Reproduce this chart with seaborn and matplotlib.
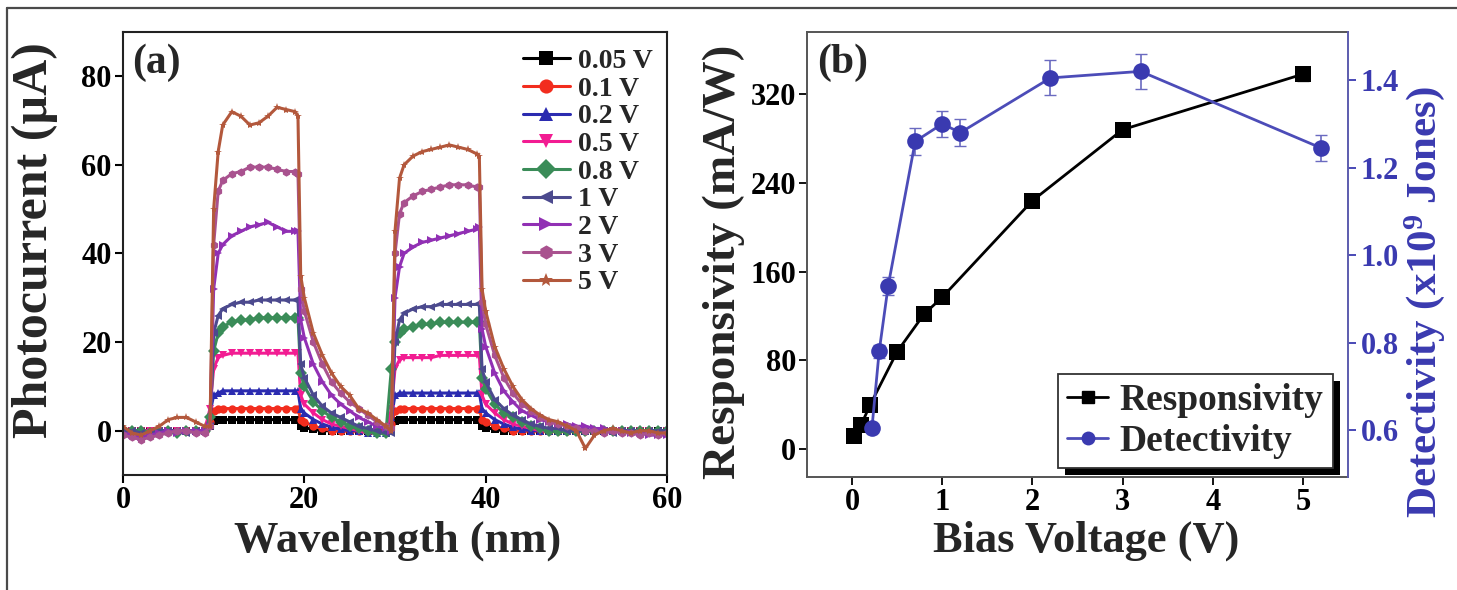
import matplotlib
matplotlib.use('Agg')
import matplotlib.pyplot as plt
from matplotlib.lines import Line2D
from matplotlib.patches import Rectangle
from matplotlib.transforms import IdentityTransform
import seaborn as sns

# ---- panel (a): photocurrent vs wavelength ----
t_nm = [0, 1, 2, 3, 4, 5, 6, 7, 8, 9,
        9.6, 10, 10.5, 11,
        12, 13, 14, 15, 16, 17, 18, 19,
        19.3, 19.6, 20, 21, 22, 23, 24, 25, 26, 27, 28, 29,
        29.6, 30, 30.5, 31,
        32, 33, 34, 35, 36, 37, 38, 39,
        39.3, 39.6, 40, 41, 42, 43, 44, 45, 46, 47, 48, 49,
        50, 51, 52, 53, 54, 55, 56, 57, 58, 59, 60]

i_005 = [0, 0, 0, 0, 0, 0, 0, 0, 0, 0,
         1, 2.2, 2.5, 2.5,
         2.5, 2.5, 2.5, 2.5, 2.5, 2.5, 2.5, 2.5,
         2.5, 1, 0.7, 0.3, 0, 0, 0, 0, 0, 0, 0, 0,
         0.8, 2.2, 2.5, 2.5,
         2.5, 2.5, 2.5, 2.5, 2.5, 2.5, 2.5, 2.5,
         2.5, 1, 0.7, 0.3, 0, 0, 0, 0, 0, 0, 0, 0,
         0, 0, 0, 0, 0, 0, 0, 0, 0, 0, 0]
i_01 = [0, 0, 0, 0, 0, 0, 0, 0, 0, 0,
        2, 4.5, 5, 5,
        5, 5, 5, 5, 5, 5, 5, 5,
        5, 2.5, 2, 1, 0.5, 0, 0, 0, 0, 0, 0, 0,
        1.5, 4.5, 5, 5,
        5, 5, 5, 5, 5, 5, 5, 5,
        5, 2.5, 2, 1, 0.5, 0, 0, 0, 0, 0, 0, 0,
        0, 0, 0, 0, 0, 0, 0, 0, 0, 0, 0]
i_02 = [0, 0, 0, 0, 0, 0, 0, 0, 0, 0,
        4, 8, 8.5, 9,
        9, 9, 9, 9, 9, 9, 9, 9,
        9, 5, 4, 2.5, 1.5, 0.8, 0.3, 0, 0, -0.5, -0.5, -0.5,
        3, 8, 8.5, 8.5,
        8.5, 8.5, 8.5, 8.5, 8.5, 8.5, 8.5, 8.5,
        8.5, 5, 4, 2.5, 1.5, 0.8, 0.3, 0, 0, 0, 0, 0,
        0, 0, 0, 0, 0, 0, 0, 0, 0, 0, 0]
i_05 = [0, 0, 0, 0, 0, 0, 0, 0, 0, 0,
        5, 14, 16.5, 17,
        17.5, 17.5, 17.5, 17.5, 17.5, 17.5, 17.5, 17.5,
        17.5, 8, 6, 4, 2.5, 1.5, 1, 0.5, 0, -0.5, -0.5, -0.5,
        5, 14, 16, 16.5,
        16.5, 16.5, 16.5, 17, 17, 17, 17, 17,
        17, 8, 6, 4, 2.5, 1.5, 1, 0.5, 0, 0, 0, 0,
        0, 0, 0, 0, 0, 0, 0, 0, 0, -0.5, 0]
i_08 = [0, 0, 0, -0.5, 0, 0, -0.5, 0, 0, 0,
        3, 18, 22, 23.5,
        24.5, 25, 25, 25.5, 25.5, 25.5, 25.5, 25.5,
        25.5, 13, 10, 6.5, 4.5, 3, 2, 1, 0.5, 0, -0.5, -0.5,
        14, 20, 22, 23,
        23.5, 24, 24, 24.5, 24.5, 24.5, 24.5, 24.5,
        24.5, 12, 9.5, 6, 4, 3, 2, 1, 0.5, 0, 0, 0,
        0, 0, 0, 0, 0, 0, 0, 0, 0, 0, 0]
i_1 = [0, 0, -0.5, -0.5, 0, 0, 0, -0.5, 0, 0,
       1, 22, 26, 27.5,
       28.5, 29, 29, 29.5, 29.5, 29.5, 29.5, 29.5,
       29.5, 15, 12, 8, 5.5, 4, 3, 2, 1, 0.5, 0, -0.5,
       -0.5, 20, 25, 26.5,
       27.5, 28, 28, 28.5, 28.5, 28.5, 28.5, 28.5,
       28.5, 14, 11, 7, 5, 3.5, 2.5, 1.5, 1, 0.5, 0.5, 0,
       0, 0, 0, 0, -0.5, 0, 0, -0.5, 0, 0, 0]
i_2 = [-0.5, -1, -1.5, -1, -0.5, 0, -0.5, 0, 0, 0,
       1, 32, 40, 42,
       44, 45, 46, 46.5, 47, 46, 45, 45,
       45, 25, 21, 15, 11, 8, 6, 4.5, 3, 2, 1, 0.5,
       0, 30, 37, 40,
       41.5, 42.5, 43, 43.5, 44, 44.5, 45, 45.5,
       46, 23, 19, 13, 9, 6.5, 4.5, 3.5, 2.5, 2, 1.5, 1.5,
       1, 1, 0.5, 0.5, 0, 0, -0.5, -0.5, -1, -1, -1]
i_3 = [-1, -1.5, -2, -1.5, -1, -0.5, 0, 0, -0.5, -0.5,
       1, 42, 54, 56.5,
       58, 58.5, 59.5, 59.5, 59.5, 59, 58.5, 58.5,
       58, 32, 27, 20, 15, 11, 8.5, 6.5, 5, 3.5, 2, 1,
       0.5, 40, 49, 51.5,
       53, 54, 54.5, 55, 55.5, 55.5, 55.5, 55,
       55, 29, 24, 17, 12, 8.5, 6, 4.5, 3, 2, 1.5, 1,
       0.5, 0, 0, -0.5, 0, -0.5, -0.5, -1, -0.5, -1, -0.5]
i_5 = [1, -0.5, -1, 0, 1, 2.5, 3, 3, 2, 1,
       1, 50, 63, 69,
       72, 71, 69, 69.5, 71, 73, 72.5, 72,
       71, 35, 30, 22, 17, 13, 10, 8, 5, 4, 2.5, 1,
       0, 45, 57, 60,
       62, 63, 63.5, 64, 64.5, 64, 63.5, 62.5,
       62, 32, 27, 19, 14, 10, 7, 5, 3.5, 2.5, 2, 1,
       0, -4, -1, 0, 0.5, 0, -0.5, 0, 0, -0.5, -0.5]

bias_labels = ['0.05 V', '0.1 V', '0.2 V', '0.5 V', '0.8 V', '1 V', '2 V', '3 V', '5 V']
currents = [i_005, i_01, i_02, i_05, i_08, i_1, i_2, i_3, i_5]
colors_a = ['#000000', '#f22d1e', '#2b2bb0', '#f21c92', '#3a8c58',
            '#4c4a8e', '#9130b4', '#a9528f', '#b3583c']
markers_a = ['s', 'o', '^', 'v', 'D', '<', '>', 'h', '*']

# ---- panel (b): responsivity / detectivity vs bias ----
bias_resp = [0.02, 0.1, 0.2, 0.5, 0.8, 1, 2, 3, 5]
responsivity = [12, 22, 40, 88, 122, 137, 224, 288, 338]
resp_err = [2, 2, 2, 3, 3, 3, 4, 5, 6]
bias_det = [0.22, 0.3, 0.4, 0.7, 1.0, 1.2, 2.2, 3.2, 5.2]
detectivity = [0.605, 0.78, 0.93, 1.26, 1.30, 1.28, 1.405, 1.42, 1.245]
det_err = [0.01, 0.015, 0.02, 0.03, 0.03, 0.03, 0.04, 0.04, 0.03]

sns.set_theme(style='ticks')
plt.rcParams['font.family'] = ['Liberation Serif', 'DejaVu Serif']
plt.rcParams['font.weight'] = 'bold'
plt.rcParams['axes.labelweight'] = 'bold'
plt.rcParams['mathtext.fontset'] = 'custom'
plt.rcParams['mathtext.bf'] = 'Liberation Serif:bold'
plt.rcParams['mathtext.rm'] = 'Liberation Serif:bold'
plt.rcParams['mathtext.default'] = 'bf'

fig = plt.figure(figsize=(14.57, 5.90), dpi=100)
ax_a = fig.add_axes([0.0844, 0.1949, 0.3734, 0.7509])
ax_b = fig.add_axes([0.5539, 0.1915, 0.3713, 0.7543])

# outer frame of the figure
fig.add_artist(Line2D([0.0048, 1.0], [0.9864, 0.9864], transform=fig.transFigure,
                      color='#4a4a4a', lw=1.6))
fig.add_artist(Line2D([0.0048, 0.0048], [0.0, 0.9864], transform=fig.transFigure,
                      color='#4a4a4a', lw=1.6))

# panel (a)
for lbl, vals, c, m in zip(bias_labels, currents, colors_a, markers_a):
    sns.lineplot(x=t_nm, y=vals, ax=ax_a, color=c, marker=m, markersize=6,
                 markeredgewidth=0, linewidth=2.2, label=lbl, estimator=None, sort=False)

ax_a.set_xlim(0, 60)
ax_a.set_ylim(-10, 90)
ax_a.set_xticks([0, 20, 40, 60])
ax_a.set_yticks([0, 20, 40, 60, 80])
ax_a.set_xlabel('Wavelength (nm)', fontsize=32)
ax_a.set_ylabel('Photocurrent (µA)', fontsize=36)
ax_a.xaxis.set_label_coords(0.504, -0.103)
ax_a.yaxis.set_label_coords(-0.12, 0.53)
ax_a.tick_params(direction='out', length=6, width=1.5, labelsize=22, colors='black', pad=2)
for s in ax_a.spines.values():
    s.set_visible(True)
    s.set_linewidth(1.5)
    s.set_color('#222222')
ax_a.text(0.017, 0.975, '(a)', transform=ax_a.transAxes, va='top', ha='left', fontsize=30)
ax_a.legend(loc='upper right', bbox_to_anchor=(1.005, 1.0), frameon=False, fontsize=20,
            markerscale=1.7, handlelength=1.7, labelspacing=0.08, handletextpad=0.3,
            borderaxespad=0.2)

# panel (b)
blue = '#3a3ab0'
ax_b.errorbar(bias_resp, responsivity, yerr=resp_err, fmt='none', ecolor='#444444',
              elinewidth=1, capsize=4, zorder=1)
sns.lineplot(x=bias_resp, y=responsivity, ax=ax_b, color='black', marker='s', markersize=12,
             markeredgewidth=0, linewidth=2, estimator=None, sort=False, zorder=3)
ax2 = ax_b.twinx()
ax2.errorbar(bias_det, detectivity, yerr=det_err, fmt='none', ecolor='#6a6ac0',
             elinewidth=1.2, capsize=4, zorder=1)
sns.lineplot(x=bias_det, y=detectivity, ax=ax2, color='#4c4cb8', marker='o', markersize=12,
             markerfacecolor=blue, markeredgewidth=0, linewidth=2, estimator=None, sort=False,
             zorder=3)

ax_b.set_xlim(-0.5, 5.5)
ax_b.set_ylim(-25, 376)
ax_b.set_xticks([0, 1, 2, 3, 4, 5])
ax_b.set_yticks([0, 80, 160, 240, 320])
ax2.set_ylim(0.493, 1.51)
ax2.set_yticks([0.6, 0.8, 1.0, 1.2, 1.4])
ax2.set_yticklabels(['0.6', '0.8', '1.0', '1.2', '1.4'])
ax_b.set_xlabel('Bias Voltage (V)', fontsize=32)
ax_b.set_ylabel('Responsivity (mA/W)', fontsize=34)
ax_b.xaxis.set_label_coords(0.516, -0.097)
ax_b.yaxis.set_label_coords(-0.115, 0.483)
ax2.set_ylabel('Detectivity (x10$^{9}$ Jones)', fontsize=31, color=blue)
ax2.yaxis.set_label_coords(1.1, 0.393)
ax_b.tick_params(direction='out', length=6, width=1.3, labelsize=22, colors='black', pad=2)
ax2.tick_params(axis='y', direction='out', length=6, width=1.3, labelsize=22,
                colors=blue, pad=3)
for s in ['left', 'bottom', 'top']:
    ax_b.spines[s].set_visible(True)
    ax_b.spines[s].set_color('#555555')
    ax_b.spines[s].set_linewidth(1.4)
ax_b.spines['right'].set_visible(False)
for s in ['left', 'bottom', 'top']:
    ax2.spines[s].set_visible(False)
ax2.spines['right'].set_visible(True)
ax2.spines['right'].set_color('#5c5cae')
ax2.spines['right'].set_linewidth(1.4)
ax_b.text(0.018, 0.975, '(b)', transform=ax_b.transAxes, va='top', ha='left', fontsize=30)

handles = [Line2D([], [], color='black', marker='s', markersize=9, lw=2),
           Line2D([], [], color='#4c4cb8', marker='o', markersize=10,
                  markerfacecolor=blue, markeredgewidth=0, lw=2)]
leg = ax2.legend(handles, ['Responsivity', 'Detectivity'], loc='lower right',
                 bbox_to_anchor=(0.972, 0.02), fontsize=27, handlelength=1.1,
                 handletextpad=0.3, labelspacing=0.15, borderpad=0.25, borderaxespad=0,
                 fancybox=False, framealpha=1, edgecolor='#333333')
leg.get_frame().set_linewidth(1.3)
leg.set_zorder(6)

fig.canvas.draw()
bb = leg.get_window_extent()
ax2.add_patch(Rectangle((bb.x0 + 7, bb.y0 - 7), bb.width, bb.height, transform=IdentityTransform(),
                        facecolor='black', edgecolor='none', zorder=5.5, clip_on=False))

fig.savefig('out.png', dpi=100)
